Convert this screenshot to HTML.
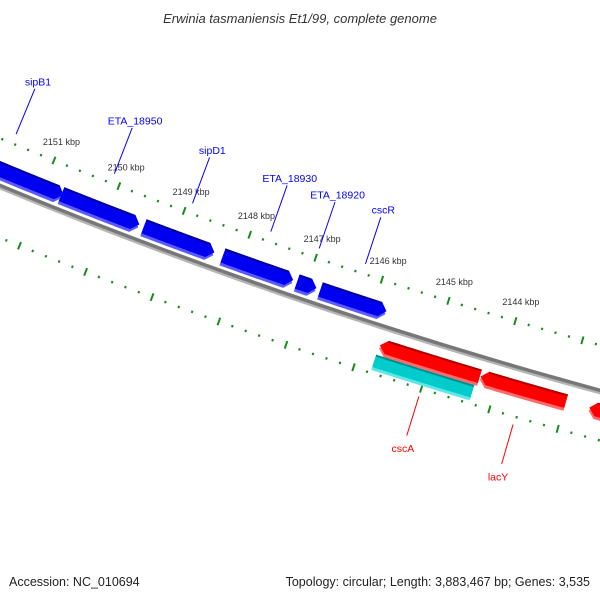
<!DOCTYPE html>
<html><head><meta charset="utf-8"><style>
html,body{margin:0;padding:0;background:#fff;}
svg{display:block;font-family:"Liberation Sans",sans-serif;}
</style></head><body>
<svg id="map" width="600" height="600" viewBox="0 0 600 600">
<rect x="0" y="0" width="600" height="600" fill="#fff"/>
<text x="300" y="23" text-anchor="middle" font-size="13" font-style="italic" fill="#333">Erwinia tasmaniensis Et1/99, complete genome</text>
<g id="layer"></g>
<text x="9" y="586" font-size="12.5" fill="#222">Accession: NC_010694</text>
<text x="590" y="586" text-anchor="end" font-size="12.5" fill="#222">Topology: circular; Length: 3,883,467 bp; Genes: 3,535</text>
</svg>
<script>
// gene data (kbp)
const geneNames = ["gene-a","gene-b","gene-c","gene-d","gene-e","gene-f","gene-g","gene-h","gene-i","gene-j"];
const geneStarts = [2152.6,2150.72,2149.46,2148.26,2147.14,2146.79,2145.74,2144.25,2142.65,2145.75];
const geneEnds   = [2150.69,2149.53,2148.39,2147.2,2146.85,2145.8,2144.26,2142.99,2141.0,2144.3];
const geneStrand = ["fwd","fwd","fwd","fwd","fwd","fwd","rev","rev","rev","cds"];
const geneLabels = ["sipB1","ETA_18950","sipD1","ETA_18930","ETA_18920","cscR","cscA","lacY","",""];
const tickStart = 2141, tickEnd = 2154;
const labelMin = 2144, labelMax = 2151;

const NS="http://www.w3.org/2000/svg";
const layer=document.getElementById('layer');
const CX=1927, CY=-4475.5;
function ang(k){return (109.2+(k-2147.5)*0.8)*Math.PI/180;}
function pt(k,r){const a=ang(k);return [CX+r*Math.cos(a),CY+r*Math.sin(a)];}
function mk(tag,attrs){const e=document.createElementNS(NS,tag);for(const k in attrs)e.setAttribute(k,attrs[k]);layer.appendChild(e);return e;}
function arcPath(k1,k2,r){let d="";const n=40;for(let i=0;i<=n;i++){const p=pt(k1+(k2-k1)*i/n,r);d+=(i?"L":"M")+p[0].toFixed(2)+","+p[1].toFixed(2);}return d;}

// backbone
let bb=mk('path',{d:arcPath(2154,2140,5046),stroke:'#b5b5b5','stroke-width':3,fill:'none'});


let bb2=mk('path',{d:arcPath(2154,2140,5043.5),stroke:'#777','stroke-width':3.5,fill:'none'});



// ticks
function drawTicks(r,withLabels,ringName){
  for(let i=0;i<=Math.round((tickEnd-tickStart)*5);i++){
    const k=tickStart+i*0.2;
    const major=Math.abs(k-Math.round(k))<1e-6;
    const h=major?4:1.2;
    const a=pt(k,r-h),b=pt(k,r+h);
    const t=mk('line',{x1:a[0],y1:a[1],x2:b[0],y2:b[1],stroke:'#1a8a1a','stroke-width':2});
    
    
    const kr=Math.round(k);
    if(major&&withLabels&&kr>=labelMin&&kr<=labelMax){
      const p=pt(k,4980);
      const tx=mk('text',{x:p[0],y:p[1]+3,'text-anchor':'middle','font-size':9,fill:'#333'});
      tx.textContent=kr+" kbp";
      
      
    }
  }
}
drawTicks(5000,true,'outer-ring');
drawTicks(5092,false,'inner-ring');

// genes
const styles={
  fwd:{r1:5021,r2:5036,main:'#0000f0',light:'#5a5aff',dark:'#0000a0',dir:1},
  rev:{r1:5056,r2:5070,main:'#ff0000',light:'#ff6a6a',dark:'#b00000',dir:-1},
  cds:{r1:5073,r2:5086,main:'#00cccc',light:'#60e6e6',dark:'#008f8f',dir:0}
};
for(let i=0;i<geneStarts.length;i++){
  const s=styles[geneStrand[i]];
  const g=document.createElementNS(NS,'g');layer.appendChild(g);
  
  
  const k1=geneEnds[i],k2=geneStarts[i];
  function poly(ra,rb){
    const head=0.1,n=30,pts=[];const rm=(ra+rb)/2;
    let from=k2,to=k1;
    if(s.dir===1)to=k1+head; if(s.dir===-1)from=k2-head;
    for(let j=0;j<=n;j++)pts.push(pt(from+(to-from)*j/n,ra));
    if(s.dir===1)pts.push(pt(k1,rm));
    for(let j=n;j>=0;j--)pts.push(pt(from+(to-from)*j/n,rb));
    if(s.dir===-1)pts.push(pt(k2,rm));
    return pts.map(p=>p[0].toFixed(2)+","+p[1].toFixed(2)).join(" ");
  }
  const l=document.createElementNS(NS,'polygon');
  l.setAttribute('points',poly(s.r1+3,s.r2+3));
  l.setAttribute('fill',s.light);
  const m=document.createElementNS(NS,'polygon');
  m.setAttribute('points',poly(s.r1,s.r2));
  m.setAttribute('fill',s.main);
  g.appendChild(l);g.appendChild(m);
  const d=document.createElementNS(NS,'path');
  const lo=s.dir===1?k1+0.1:k1, hi=s.dir===-1?k2-0.1:k2;
  d.setAttribute('d',arcPath(hi,lo,s.r1+1));
  d.setAttribute('stroke',s.dark);d.setAttribute('stroke-width',2);d.setAttribute('fill','none');
  g.appendChild(d);
}

// labels
for(let i=0;i<geneStarts.length;i++){
  if(!geneLabels[i])continue;
  const mid=(geneStarts[i]+geneEnds[i])/2;
  const st=geneStrand[i];
  const col=st==='fwd'?'#0000ff':'#ff0000';
  let ra,rb,rt;
  if(st==='fwd'){ra=4990;rb=4941;rt=4933;}else{ra=5100;rb=5141;rt=5154;}
  const a=pt(mid,ra),b=pt(mid,rb),t=pt(mid,rt);
  const ln=mk('line',{x1:a[0],y1:a[1],x2:b[0],y2:b[1],stroke:col,'stroke-width':1});
  
  
  const tx=mk('text',{x:t[0],y:t[1]+4,'text-anchor':'middle','font-size':10.5,fill:col});
  tx.textContent=geneLabels[i];
  
  
}
</script>
</body></html>
